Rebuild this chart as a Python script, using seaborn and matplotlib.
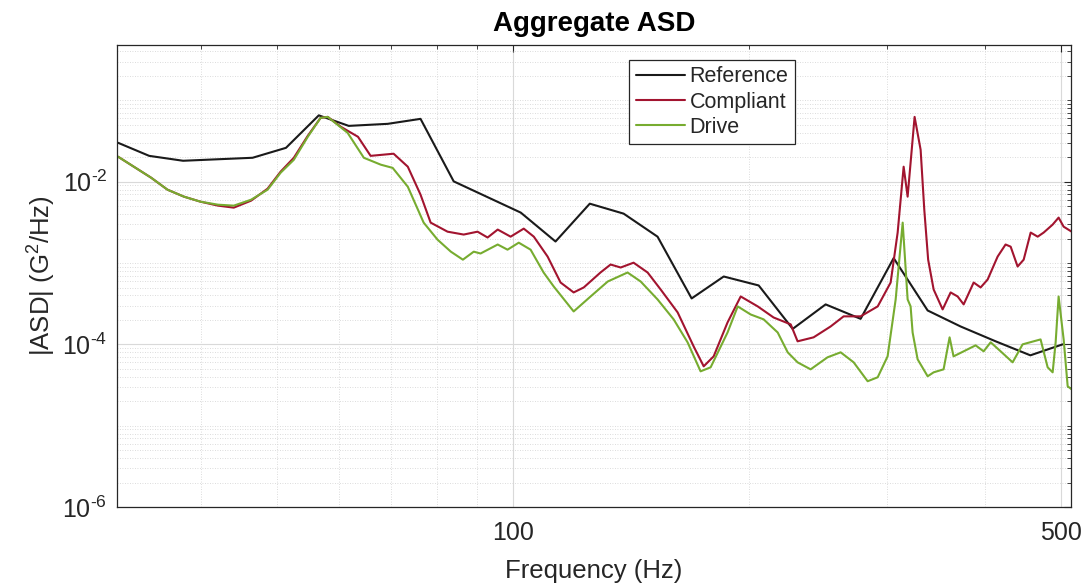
import numpy as np
import pandas as pd
import matplotlib
matplotlib.use("Agg")
import matplotlib.pyplot as plt
import matplotlib.ticker as mticker
import seaborn as sns

# ---------------- data ----------------
ref_freq = [31.4, 34.4, 38.0, 46.6, 51.4, 56.6, 61.8, 69.3, 76.3, 84.1, 102.4,
            113.4, 125.4, 138.5, 153.0, 169.1, 185.8, 205.9, 227.5, 250.6,
            277.7, 306.0, 338.1, 372.4, 412.8, 457.1, 502.5]
ref_asd = [0.0301, 0.0208, 0.0181, 0.0197, 0.0261, 0.0655, 0.0486, 0.0515,
           0.0593, 0.0101, 0.00417, 0.00184, 0.00537, 0.00405, 0.00211,
           0.000367, 0.000683, 0.000530, 0.000155, 0.000310, 0.000206,
           0.00115, 0.000261, 0.000166, 0.000109, 7.33e-5, 1.0e-4]

comp_freq = [31.4, 34.6, 36.3, 38.1, 40.0, 42.1, 44.1, 46.4, 48.7, 50.6, 52.6,
             54.8, 56.9, 58.1, 60.4, 63.5, 65.9, 70.5, 73.5, 76.3, 78.6, 82.6,
             86.6, 90.2, 92.9, 95.7, 99.4, 103.3, 106.4, 110.8, 115.1, 119.6,
             123.2, 129.4, 133.3, 137.3, 142.6, 148.6, 154.4, 162.3, 170.1,
             175.2, 180.4, 187.9, 195.3, 205.3, 215.1, 226.2, 230.8, 241.9,
             254.3, 264.2, 277.7, 292.0, 303.3, 309.6, 315.1, 318.8, 325.4,
             331.2, 334.8, 338.6, 344.1, 353.3, 361.7, 369.2, 375.8, 387.0,
             395.0, 403.2, 415.2, 425.0, 431.4, 440.3, 448.2, 457.5, 467.0,
             475.3, 488.0, 496.6, 504.0, 516.0]
comp_asd = [0.0203, 0.0112, 0.00798, 0.00655, 0.00568, 0.00508, 0.00480,
            0.00585, 0.00821, 0.0133, 0.0197, 0.0367, 0.0610, 0.0627, 0.0473,
            0.0357, 0.0208, 0.0221, 0.0153, 0.00693, 0.00314, 0.00243,
            0.00224, 0.00243, 0.00206, 0.00258, 0.00211, 0.00265, 0.00211,
            0.00120, 0.000576, 0.000435, 0.000501, 0.000765, 0.000959,
            0.000881, 0.00101, 0.000765, 0.000473, 0.000247, 9.45e-5, 5.37e-5,
            7.12e-5, 0.000186, 0.000388, 0.000293, 0.000214, 0.000176,
            0.000109, 0.000122, 0.000166, 0.000221, 0.000221, 0.000293,
            0.000576, 0.00237, 0.0153, 0.00655, 0.0627, 0.0247, 0.00450,
            0.00110, 0.000473, 0.000269, 0.000435, 0.000388, 0.000310,
            0.000576, 0.000501, 0.000627, 0.00120, 0.00169, 0.00159,
            0.000906, 0.00110, 0.00237, 0.00211, 0.00237, 0.00297, 0.00362,
            0.00280, 0.00243]

drive_freq = [31.4, 34.6, 36.3, 38.1, 40.0, 42.1, 44.1, 46.4, 48.7, 50.6, 52.6,
              54.8, 56.9, 58.1, 61.6, 64.6, 67.9, 70.3, 73.5, 77.0, 80.2, 83.4,
              86.4, 89.2, 91.0, 95.7, 98.5, 101.8, 105.4, 109.5, 112.8, 119.6,
              125.7, 132.2, 140.1, 145.6, 153.0, 160.4, 167.1, 173.6, 178.8,
              187.9, 193.6, 201.1, 208.9, 217.7, 224.2, 230.8, 239.8, 252.0,
              261.9, 272.1, 283.5, 292.0, 300.6, 307.8, 314.2, 318.8, 321.6,
              323.5, 328.3, 338.1, 344.1, 354.3, 360.6, 364.8, 375.8, 389.2,
              398.5, 406.8, 418.9, 433.9, 446.8, 461.5, 471.0, 480.9, 488.0,
              492.3, 496.6, 504.0, 510.0, 516.0]
drive_asd = [0.0203, 0.0112, 0.00798, 0.00655, 0.00568, 0.00522, 0.00508,
             0.00601, 0.00798, 0.0129, 0.0186, 0.0357, 0.0610, 0.0627, 0.0399,
             0.0197, 0.0162, 0.0148, 0.00868, 0.00314, 0.00194, 0.00138,
             0.00110, 0.00138, 0.00131, 0.00169, 0.00146, 0.00178, 0.00146,
             0.000765, 0.000515, 0.000254, 0.000388, 0.000593, 0.000765,
             0.000593, 0.000357, 0.000203, 0.000106, 4.66e-5, 5.22e-5,
             0.000140, 0.000293, 0.000233, 0.000203, 0.000140, 7.98e-5,
             6.01e-5, 4.93e-5, 6.93e-5, 7.98e-5, 6.01e-5, 3.52e-5, 3.94e-5,
             7.12e-5, 0.000357, 0.00314, 0.000357, 0.000293, 0.000140, 6.55e-5,
             4.05e-5, 4.53e-5, 4.93e-5, 0.000122, 7.12e-5, 8.21e-5, 9.72e-5,
             8.21e-5, 0.000106, 8.21e-5, 6.01e-5, 0.000100, 0.000109,
             0.000115, 5.22e-5, 4.53e-5, 0.000106, 0.000388, 0.000115,
             3.05e-5, 2.80e-5]

series_names = ["Reference", "Compliant", "Drive"]
series_colors = ["#1a1a1a", "#A2142F", "#77AC30"]
x_ticks = [100, 500]
x_tick_labels = ["100", "500"]
y_ticks = [1e-6, 1e-4, 1e-2]
y_tick_labels = [r"$10^{\text{-}6}$", r"$10^{\text{-}4}$", r"$10^{\text{-}2}$"]

# ---------------- build table ----------------
df = pd.concat([
    pd.DataFrame({"freq": ref_freq, "asd": ref_asd, "series": "Reference"}),
    pd.DataFrame({"freq": comp_freq, "asd": comp_asd, "series": "Compliant"}),
    pd.DataFrame({"freq": drive_freq, "asd": drive_asd, "series": "Drive"}),
], ignore_index=True)

sns.set_style("white")
plt.rcParams["font.family"] = ["Liberation Sans", "DejaVu Sans"]
plt.rcParams["mathtext.fontset"] = "custom"
plt.rcParams["mathtext.rm"] = "Liberation Sans"
plt.rcParams["mathtext.it"] = "Liberation Sans:italic"
plt.rcParams["mathtext.bf"] = "Liberation Sans:bold"

fig = plt.figure(figsize=(10.88, 5.87), dpi=100)
ax = fig.add_axes([117 / 1088, 1 - 507 / 587, (1071 - 117) / 1088, (507 - 45) / 587])

sns.lineplot(data=df, x="freq", y="asd", hue="series", hue_order=series_names,
             palette=dict(zip(series_names, series_colors)), estimator=None,
             sort=False, linewidth=1.5, ax=ax)

ax.set_xscale("log")
ax.set_yscale("log")
ax.set_xlim(31.3, 515)
ax.set_ylim(1e-6, 0.48)

ax.xaxis.set_major_locator(mticker.FixedLocator(x_ticks))
ax.xaxis.set_major_formatter(mticker.FixedFormatter(x_tick_labels))
ax.xaxis.set_minor_locator(mticker.LogLocator(base=10, subs=np.arange(1, 10), numticks=20))
ax.xaxis.set_minor_formatter(mticker.NullFormatter())

ax.yaxis.set_major_locator(mticker.FixedLocator(y_ticks))
ax.yaxis.set_major_formatter(mticker.FixedFormatter(y_tick_labels))
ax.yaxis.set_minor_locator(mticker.LogLocator(base=10, subs=np.arange(1, 10), numticks=20))
ax.yaxis.set_minor_formatter(mticker.NullFormatter())

ax.tick_params(which="both", direction="in", top=True, right=True,
               colors="#262626", labelcolor="#262626")
ax.tick_params(which="major", length=5, width=0.8, labelsize=18)
ax.tick_params(axis="x", which="major", pad=10)
ax.tick_params(axis="y", which="major", pad=7)
ax.tick_params(which="minor", length=3, width=0.6)

ax.grid(which="major", color="#d9d9d9", linestyle="-", linewidth=0.8)
ax.grid(which="minor", color="#d0d0d0", linestyle=(0, (1, 2)), linewidth=0.6)
ax.set_axisbelow(True)

for s in ax.spines.values():
    s.set_color("#262626")
    s.set_linewidth(0.9)

ax.set_xlabel("Frequency (Hz)", fontsize=18.5, color="#262626", labelpad=10)
ax.set_ylabel(r"|ASD| (G$^2$/Hz)", fontsize=18.5, color="#262626", labelpad=3)
ax.set_title("Aggregate ASD", fontsize=20, fontweight="bold", color="black", pad=10)

handles, labels = ax.get_legend_handles_labels()
leg = ax.legend(handles, labels, loc="upper left", bbox_to_anchor=(0.537, 0.968),
                borderaxespad=0, frameon=True, fancybox=False, shadow=False,
                fontsize=15.5, handlelength=2.3, handletextpad=0.2,
                labelspacing=0.2, borderpad=0.3)
leg.get_frame().set_edgecolor("#262626")
leg.get_frame().set_linewidth(0.9)
leg.get_frame().set_facecolor("white")
leg.get_frame().set_alpha(1)

fig.savefig("out.png", dpi=100)
